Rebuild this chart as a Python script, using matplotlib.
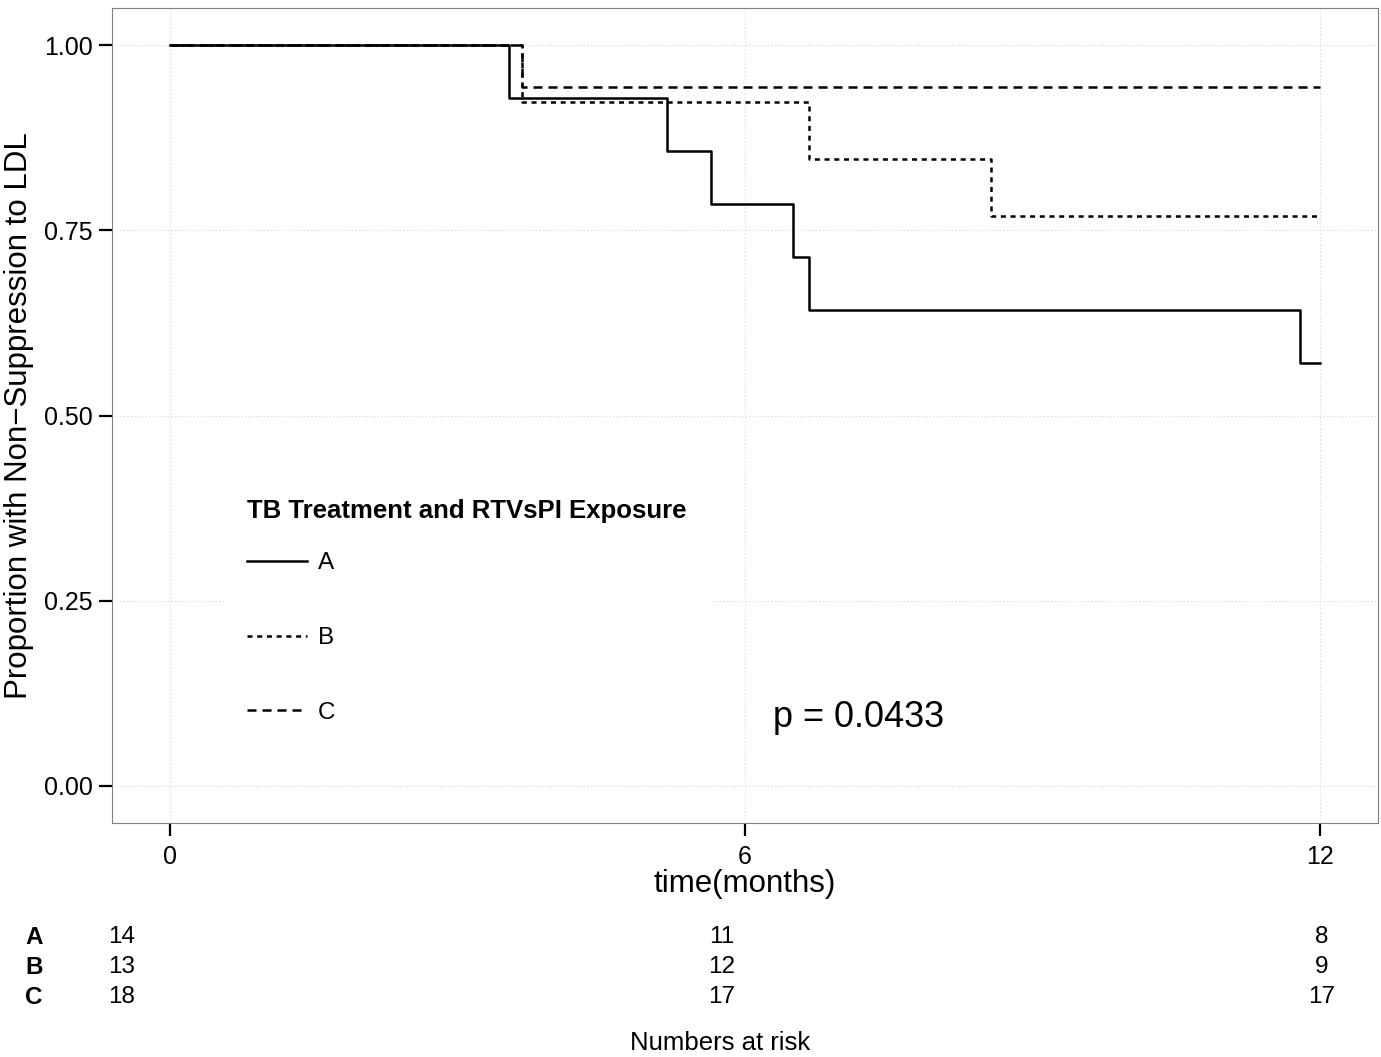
import matplotlib
matplotlib.use('Agg')
import matplotlib.pyplot as plt
from matplotlib.transforms import blended_transform_factory

plt.rcParams['font.family'] = ['Liberation Sans', 'DejaVu Sans']
plt.rcParams['lines.scale_dashes'] = False

# Kaplan-Meier steps
groups = ['A', 'B', 'C']
times_A = [0, 3.54, 5.19, 5.65, 6.50, 6.67, 11.79, 12.0]
surv_A = [1.0, 0.929, 0.857, 0.786, 0.714, 0.643, 0.571, 0.571]
times_B = [0, 3.67, 6.67, 8.56, 12.0]
surv_B = [1.0, 0.923, 0.846, 0.769, 0.769]
times_C = [0, 3.68, 12.0]
surv_C = [1.0, 0.944, 0.944]

# numbers at risk table
risk_times = [0, 6, 12]
risk_A = [14, 11, 8]
risk_B = [13, 12, 9]
risk_C = [18, 17, 17]

x_ticks = [0, 6, 12]
y_ticks = [0.0, 0.25, 0.5, 0.75, 1.0]
p_text = 'p = 0.0433'

W, H = 1381, 1057
fig = plt.figure(figsize=(W / 100, H / 100), dpi=100)

ax = fig.add_axes([112 / W, 1 - 823 / H, (1378 - 112) / W, (823 - 8) / H])
ax.set_xlim(-0.6, 12.6)
ax.set_ylim(-0.05, 1.05)

styles = [dict(linestyle='-'),
          dict(dashes=(3.6, 3.4)),
          dict(dashes=(6.5, 4.3))]
series = [(times_A, surv_A), (times_B, surv_B), (times_C, surv_C)]
for g, (t, s), st in zip(groups, series, styles):
    ax.step(t, s, where='post', color='black', lw=1.8, label=g, **st)

ax.set_xticks(x_ticks)
ax.set_yticks(y_ticks)
ax.set_yticklabels(['%.2f' % v for v in y_ticks])
ax.tick_params(axis='both', labelsize=18, length=9.5, width=1.6, color='black', pad=4.5)
ax.tick_params(axis='x', pad=6)
ax.grid(True, color='#dcdcdc', lw=0.8, linestyle=':')
ax.set_axisbelow(True)
for sp in ax.spines.values():
    sp.set_color('#808080')
    sp.set_linewidth(0.8)

ax.set_xlabel('time(months)', fontsize=22.5, labelpad=0)
ax.set_ylabel('Proportion with Non\u2212Suppression to LDL', fontsize=22.5, labelpad=7)

ax.text(6.29, 0.093, p_text, fontsize=26, va='center', ha='left', zorder=10)

leg = ax.legend(title='TB Treatment and RTVsPI Exposure', loc='upper left',
                bbox_to_anchor=(0.080, 0.439), frameon=True, fontsize=17.5,
                handlelength=2.45, labelspacing=2.17, handletextpad=0.45,
                borderpad=0.9, alignment='left',
                title_fontproperties={'weight': 'bold', 'size': 18.5})
leg._legend_box.sep = 21
leg.get_frame().set_edgecolor('white')
leg.get_frame().set_facecolor('white')
leg.get_frame().set_alpha(1)

# risk table
tax = fig.add_axes([62 / W, 1 - 1012 / H, 1320 / W, 90 / H])
tax.set_xlim(-0.6, 12.6)
tax.set_ylim(2.5, -0.5)
tax.axis('off')
trans = blended_transform_factory(fig.transFigure, tax.transData)
for i, (g, vals) in enumerate(zip(groups, [risk_A, risk_B, risk_C])):
    for t, v in zip(risk_times, vals):
        tax.text(t, i, str(v), fontsize=17.5, ha='center', va='center')
    tax.text(34 / W, i, g, fontsize=17.5, fontweight='bold', ha='center', va='center',
             transform=trans)

fig.text(720 / W, 1 - 1043 / H, 'Numbers at risk', fontsize=18.5, ha='center', va='center')

fig.savefig('out.png', dpi=100)
